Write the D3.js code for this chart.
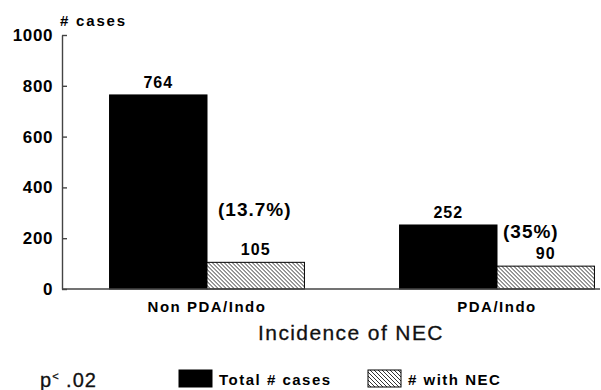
<!DOCTYPE html>
<html>
<head>
<meta charset="utf-8">
<script src="https://cdn.jsdelivr.net/npm/d3@7"></script>
<style>
  html, body { margin: 0; padding: 0; background: #fff; }
  svg { display: block; font-family: "Liberation Sans", Arial, Helvetica, sans-serif; }
</style>
</head>
<body>
<svg id="chart" width="601" height="390"></svg>
<script>
// ---- data ----
const categories = ["Non PDA/Indo", "PDA/Indo"];
const seriesNames = ["Total # cases", "# with NEC"];
const totalCases = [764, 252];
const withNEC = [105, 90];
const percentLabels = ["(13.7%)", "(35%)"];
const yTicks = [0, 200, 400, 600, 800, 1000];
const yAxisTitle = "# cases";
const xAxisTitle = "Incidence of NEC";
const pValueText = ["p", "<", " .02"];

// ---- layout ----
const svg = d3.select("#chart");
const baseY = 289, topY = 35, leftX = 62;
const y = d3.scaleLinear().domain([0, 1000]).range([baseY, topY]);
const x0 = d3.scaleBand().domain(categories).range([leftX, 642])
  .paddingInner(0.328).paddingOuter(0.164);
const x1 = d3.scaleBand().domain(seriesNames).range([0, x0.bandwidth()]);
const pctOffsets = [{dx: 11, dy: -46}, {dx: 6, dy: -28}];

// hatch pattern
const defs = svg.append("defs");
const pat = defs.append("pattern").attr("id", "hatch")
  .attr("patternUnits", "userSpaceOnUse").attr("width", 4).attr("height", 4);
pat.append("rect").attr("width", 4).attr("height", 4).attr("fill", "#fff");
pat.append("path").attr("d", "M-1,-1 L5,5 M-1,3 L1,5 M3,-1 L5,1")
  .attr("stroke", "#333").attr("stroke-width", 1);

const fills = {"Total # cases": "#000", "# with NEC": "url(#hatch)"};

const rows = categories.map((c, i) => ({
  cat: c, i,
  values: [{s: seriesNames[0], v: totalCases[i]}, {s: seriesNames[1], v: withNEC[i]}]
}));

// y axis
const yAxis = d3.axisLeft(y).tickValues(yTicks).tickFormat(d3.format("d"))
  .tickSizeInner(-5).tickSizeOuter(0).tickPadding(9);
const gy = svg.append("g").attr("transform", `translate(${leftX},0)`).call(yAxis);
gy.select(".domain").attr("stroke", "#444").attr("stroke-width", 1.4);
gy.selectAll(".tick line").attr("stroke", "#444").attr("stroke-width", 1.4);
gy.selectAll(".tick text").attr("font-size", 17).attr("font-weight", "bold")
  .attr("fill", "#000").attr("letter-spacing", "0.6px")
  .attr("font-family", "Liberation Sans, Arial, sans-serif");

// y axis title
svg.append("text").attr("x", 60).attr("y", 26).attr("font-size", 15)
  .attr("font-weight", "bold").attr("letter-spacing", "1.8px").text(yAxisTitle);

// bars
const groups = svg.selectAll("g.grp").data(rows).join("g")
  .attr("class", "grp").attr("transform", d => `translate(${x0(d.cat)},0)`);
groups.selectAll("rect").data(d => d.values).join("rect")
  .attr("x", d => x1(d.s)).attr("width", x1.bandwidth())
  .attr("y", d => y(d.v)).attr("height", d => baseY - y(d.v))
  .attr("fill", d => fills[d.s]).attr("stroke", "#000").attr("stroke-width", 1);
groups.selectAll("text.val").data(d => d.values).join("text")
  .attr("class", "val")
  .attr("x", d => x1(d.s) + x1.bandwidth() / 2).attr("y", d => y(d.v) - 7)
  .attr("text-anchor", "middle").attr("font-size", 16).attr("font-weight", "bold")
  .attr("letter-spacing", "1px").text(d => d.v);

// percent labels
groups.append("text")
  .attr("x", d => x1(seriesNames[1]) + pctOffsets[d.i].dx)
  .attr("y", d => y(withNEC[d.i]) + pctOffsets[d.i].dy)
  .attr("font-size", 19).attr("font-weight", "bold").attr("letter-spacing", "1px")
  .text(d => percentLabels[d.i]);

// x axis baseline
svg.append("line").attr("x1", leftX).attr("x2", 600).attr("y1", baseY).attr("y2", baseY)
  .attr("stroke", "#444").attr("stroke-width", 1.4);

// category labels
svg.selectAll("text.cat").data(categories).join("text").attr("class", "cat")
  .attr("x", d => x0(d) + x0.bandwidth() / 2).attr("y", 312)
  .attr("text-anchor", "middle").attr("font-size", 15).attr("font-weight", "bold")
  .attr("letter-spacing", "1.5px").text(d => d);

// x axis title
svg.append("text").attr("x", 351).attr("y", 340).attr("text-anchor", "middle")
  .attr("font-size", 21).attr("letter-spacing", "1.4px").attr("fill", "#111")
  .attr("stroke", "#111").attr("stroke-width", 0.3).text(xAxisTitle);

// p value
const pt = svg.append("text").attr("x", 40).attr("y", 387).attr("font-size", 20)
  .attr("letter-spacing", "1px").attr("fill", "#111")
  .attr("stroke", "#111").attr("stroke-width", 0.3);
pt.append("tspan").text(pValueText[0]);
pt.append("tspan").attr("font-size", 11).attr("dy", -7).text(pValueText[1]);
pt.append("tspan").attr("dy", 7).text(pValueText[2]);

// legend
const legendPos = [{sx: 179, tx: 219}, {sx: 368, tx: 408}];
const lg = svg.selectAll("g.leg").data(seriesNames).join("g").attr("class", "leg");
lg.append("rect").attr("x", (d, i) => legendPos[i].sx).attr("y", 370)
  .attr("width", 33).attr("height", 17).attr("fill", d => fills[d])
  .attr("stroke", "#000").attr("stroke-width", 1);
lg.append("text").attr("x", (d, i) => legendPos[i].tx).attr("y", 385)
  .attr("font-size", 15).attr("font-weight", "bold").attr("letter-spacing", "1.5px").text(d => d);
</script>
</body>
</html>
